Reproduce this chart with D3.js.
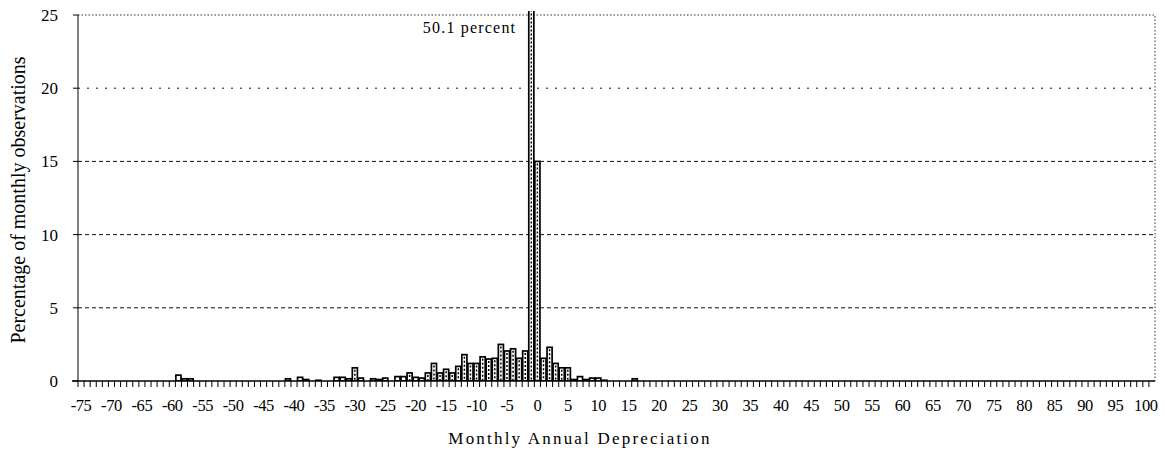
<!DOCTYPE html>
<html>
<head>
<meta charset="utf-8">
<script src="https://cdn.jsdelivr.net/npm/d3@7"></script>
<style>
  body { margin: 0; background: #fff; }
  text { font-family: "Liberation Serif", "DejaVu Serif", serif; fill: #000; }
</style>
</head>
<body>
<script>
// histogram bins (percent of monthly observations), bins not listed are empty
const binValue = [-59, -58, -57, -41, -39, -38, -36, -33, -32, -31, -30, -29, -27, -26, -25,
  -23, -22, -21, -20, -19, -18, -17, -16, -15, -14, -13, -12, -11, -10, -9, -8, -7, -6, -5,
  -4, -3, -2, -1, 0, 1, 2, 3, 4, 5, 6, 7, 8, 9, 10, 11, 16];
const binShare = [0.4, 0.15, 0.15, 0.15, 0.25, 0.1, 0.05, 0.25, 0.25, 0.15, 0.9, 0.2, 0.15, 0.1, 0.2,
  0.3, 0.3, 0.55, 0.25, 0.2, 0.55, 1.2, 0.55, 0.8, 0.55, 1.0, 1.8, 1.2, 1.2, 1.65, 1.5, 1.55, 2.5, 2.05,
  2.2, 1.55, 2.05, 50.1, 15, 1.55, 2.3, 1.2, 0.9, 0.9, 0.1, 0.3, 0.1, 0.2, 0.2, 0.05, 0.15];
const xTickLabels = [-75, -70, -65, -60, -55, -50, -45, -40, -35, -30, -25, -20, -15, -10, -5,
  0, 5, 10, 15, 20, 25, 30, 35, 40, 45, 50, 55, 60, 65, 70, 75, 80, 85, 90, 95, 100];
const yTicks = [0, 5, 10, 15, 20, 25];

const width = 1165, height = 456;
const plotLeft = 78, plotRight = 1155, plotTop = 15, plotBottom = 381;

const svg = d3.select("body").append("svg")
  .attr("width", width)
  .attr("height", height);

// one band per whole-percent category
const categories = d3.range(-75, 102);
const x = d3.scaleBand().domain(categories).range([plotLeft, plotRight]).padding(0);
const y = d3.scaleLinear().domain([0, 25]).range([plotBottom, plotTop]);

svg.append("clipPath").attr("id", "plotClip")
  .append("rect").attr("x", plotLeft).attr("y", plotTop - 4)
  .attr("width", plotRight - plotLeft).attr("height", plotBottom - plotTop + 4);

// gridlines
svg.append("g")
  .selectAll("line")
  .data(yTicks.filter(d => d > 0 && d < 25))
  .join("line")
  .attr("x1", plotLeft).attr("x2", plotRight)
  .attr("y1", d => y(d)).attr("y2", d => y(d))
  .attr("stroke", "#111")
  .attr("stroke-width", 1)
  .attr("stroke-dasharray", d => d === 20 ? "2,7" : "4,3");

// dotted plot border top / right
svg.append("path")
  .attr("d", `M${plotLeft},${y(25)}H${plotRight}V${plotBottom}`)
  .attr("fill", "none")
  .attr("stroke", "#333")
  .attr("stroke-dasharray", "1.5,2");

// bars
const bars = svg.append("g").attr("clip-path", "url(#plotClip)");
const data = binValue.map((v, i) => ({ v: v, p: binShare[i] }));
const bw = x.bandwidth();

bars.selectAll("rect")
  .data(data)
  .join("rect")
  .attr("x", d => x(d.v) + 0.5)
  .attr("width", bw - 1)
  .attr("y", d => y(d.p) - 4 * (d.p > 25))
  .attr("height", d => plotBottom - y(d.p) + 4 * (d.p > 25))
  .attr("fill", "#fff")
  .attr("stroke", "#000")
  .attr("stroke-width", 1.7);

// pattern-like dashes inside the taller bars
bars.selectAll("line")
  .data(data.filter(d => plotBottom - y(d.p) > 6))
  .join("line")
  .attr("x1", d => x(d.v) + bw / 2).attr("x2", d => x(d.v) + bw / 2)
  .attr("y1", d => y(d.p) + 2).attr("y2", plotBottom)
  .attr("stroke", "#000")
  .attr("stroke-width", 1.5)
  .attr("stroke-dasharray", "2,2");

// axes
svg.append("line")
  .attr("x1", plotLeft).attr("x2", plotLeft)
  .attr("y1", plotTop).attr("y2", plotBottom)
  .attr("stroke", "#000");
svg.append("line")
  .attr("x1", plotLeft - 6).attr("x2", plotRight)
  .attr("y1", plotBottom).attr("y2", plotBottom)
  .attr("stroke", "#000")
  .attr("stroke-width", 1.3);

// category tick marks
svg.append("g")
  .selectAll("line")
  .data(categories)
  .join("line")
  .attr("x1", d => x(d)).attr("x2", d => x(d))
  .attr("y1", plotBottom).attr("y2", plotBottom + 6)
  .attr("stroke", "#000");

// y ticks
svg.append("g")
  .selectAll("line")
  .data(yTicks)
  .join("line")
  .attr("x1", plotLeft - 5).attr("x2", plotLeft)
  .attr("y1", d => y(d)).attr("y2", d => y(d))
  .attr("stroke", "#000");

svg.append("g")
  .selectAll("text")
  .data(yTicks)
  .join("text")
  .attr("x", 58)
  .attr("y", d => y(d))
  .attr("dy", "0.35em")
  .attr("text-anchor", "end")
  .attr("font-size", 17)
  .text(d => d);

svg.append("g")
  .selectAll("text")
  .data(xTickLabels)
  .join("text")
  .attr("x", d => x(d) + bw / 2)
  .attr("y", plotBottom + 30)
  .attr("text-anchor", "middle")
  .attr("font-size", 16.5)
  .attr("letter-spacing", -0.4)
  .text(d => d);

// titles
svg.append("text")
  .attr("transform", `translate(25,${(plotTop + plotBottom) / 2 + 2}) rotate(-90)`)
  .attr("text-anchor", "middle")
  .attr("font-size", 20)
  .text("Percentage of monthly observations");

svg.append("text")
  .attr("x", 580)
  .attr("y", 444)
  .attr("text-anchor", "middle")
  .attr("font-size", 17)
  .attr("letter-spacing", 2.2)
  .text("Monthly Annual Depreciation");

// annotation for the clipped peak bar
svg.append("text")
  .attr("x", x(-1) - 12)
  .attr("y", 33)
  .attr("text-anchor", "end")
  .attr("font-size", 16)
  .attr("letter-spacing", 1.2)
  .text("50.1 percent");
</script>
</body>
</html>
